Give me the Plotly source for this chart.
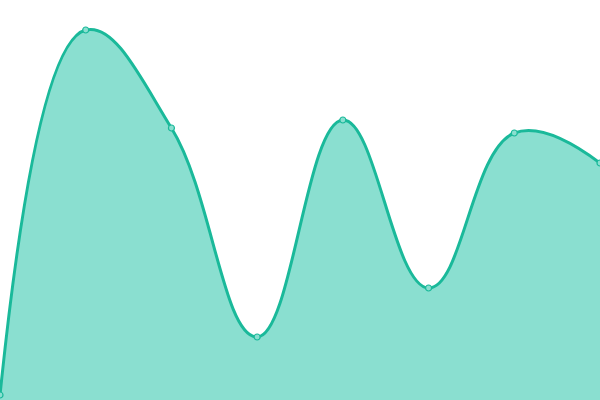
import plotly.graph_objects as go

x_vals = [0, 1, 2, 3, 4, 5, 6, 7]
y_vals = [5, 370, 272, 63, 280, 112, 267, 237]

fig = go.Figure()
fig.add_trace(go.Scatter(
    x=x_vals, y=y_vals,
    mode="lines+markers",
    line=dict(color="#1ab99a", width=3, shape="spline", smoothing=1.2),
    marker=dict(size=6, color="#8adfd0", line=dict(color="#1ab99a", width=1.2)),
    fill="tozeroy",
    fillcolor="#8adfd0",
    hoverinfo="skip",
))
fig.update_layout(
    width=600, height=400,
    margin=dict(l=0, r=0, t=0, b=0),
    paper_bgcolor="white", plot_bgcolor="white",
    showlegend=False,
    xaxis=dict(range=[0, 7], visible=False, fixedrange=True),
    yaxis=dict(range=[0, 400], visible=False, fixedrange=True),
)
fig.write_html(
    "out.html",
    config={"displayModeBar": False},
    post_script="document.body.style.margin='0';document.body.style.overflow='hidden';",
)
